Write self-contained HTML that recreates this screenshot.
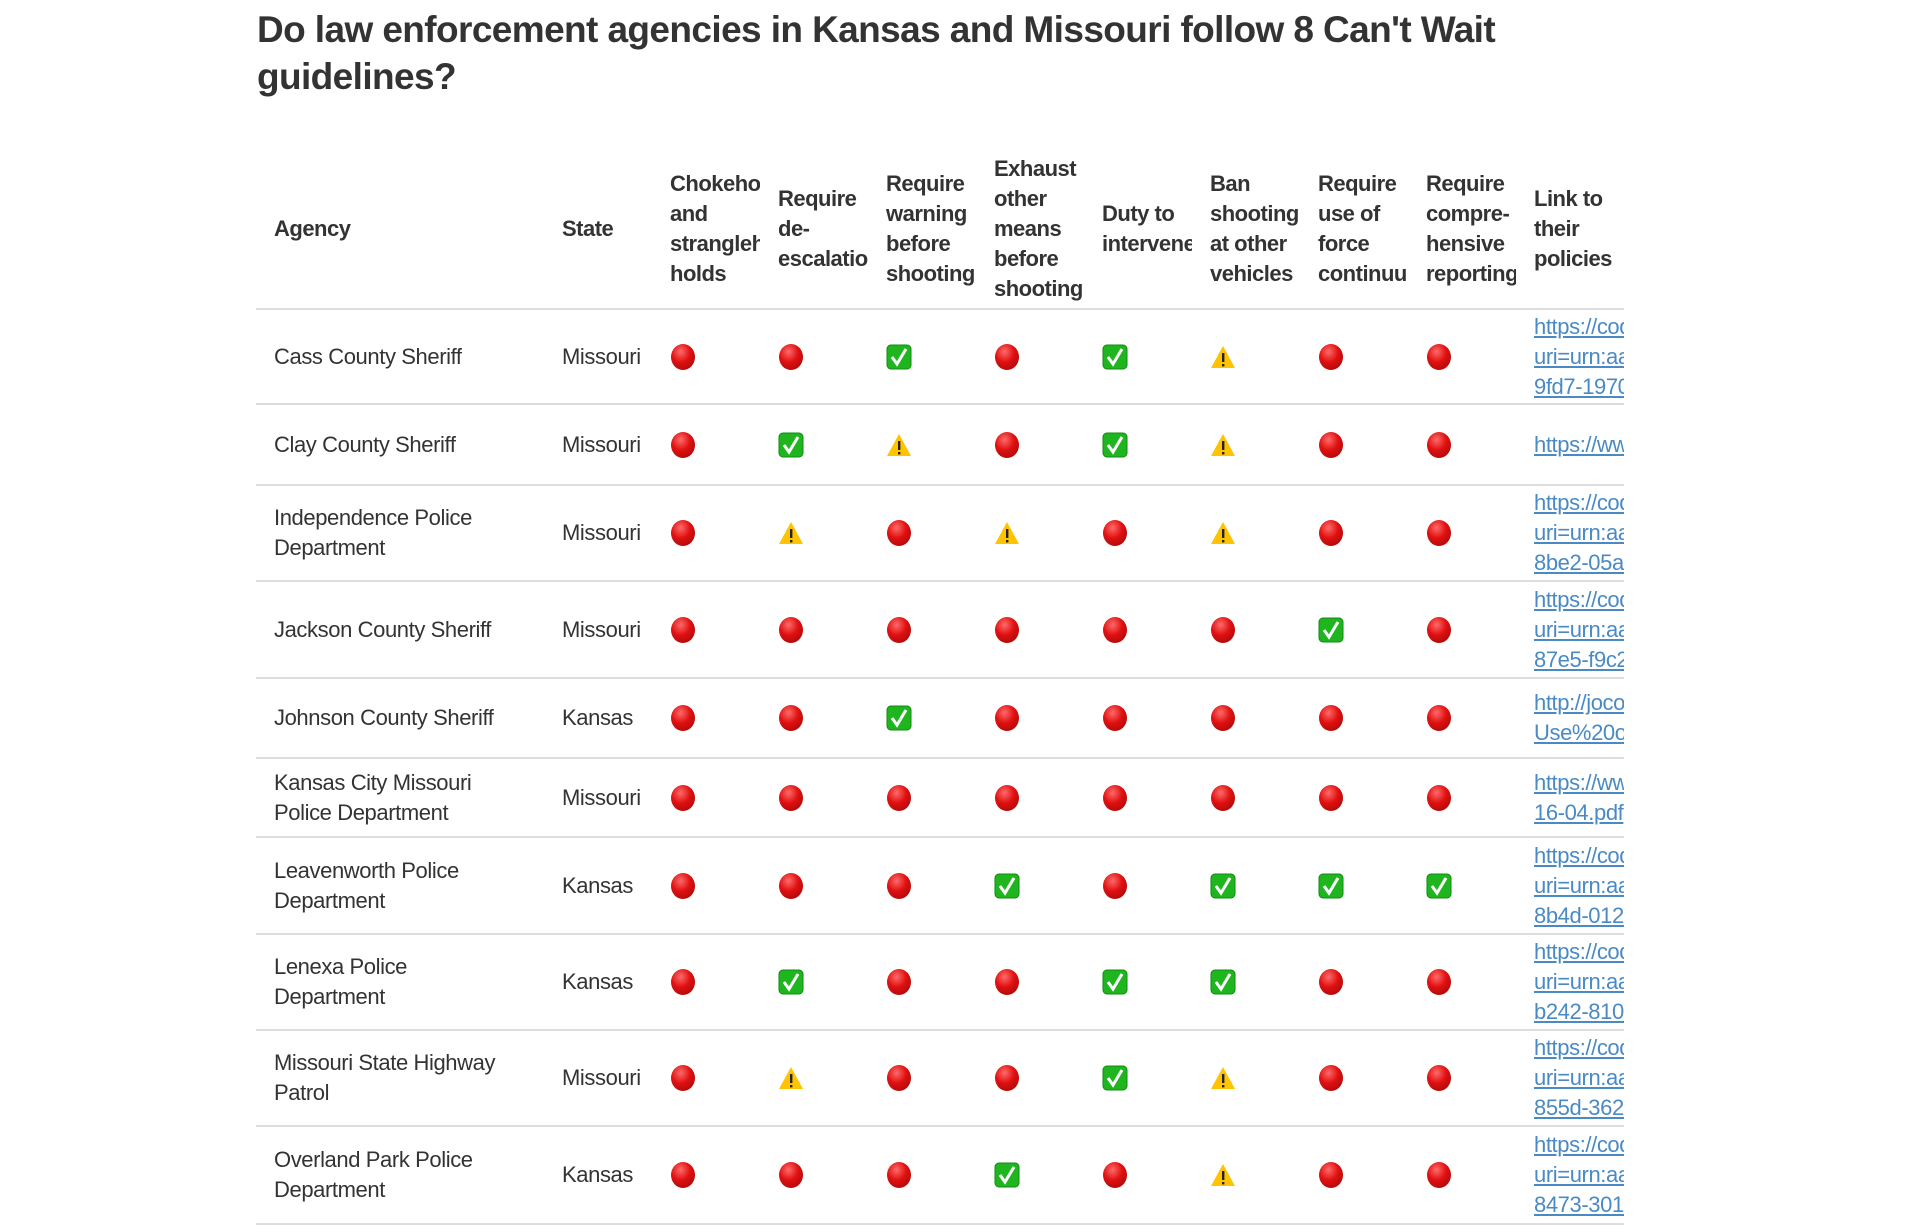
<!DOCTYPE html>
<html><head><meta charset="utf-8">
<style>
html,body{margin:0;padding:0;background:#fff;width:1922px;height:1220px;overflow:hidden;}
body{font-family:"Liberation Sans",sans-serif;color:#333;}
h1{position:absolute;left:257px;top:6px;margin:0;width:1400px;font-size:37px;line-height:47px;font-weight:bold;color:#333;letter-spacing:-0.6px;}
table{position:absolute;left:256px;top:150px;border-collapse:collapse;table-layout:fixed;width:1364px;}
th,td{padding:0 0 0 18px;overflow:hidden;text-align:left;vertical-align:middle;}
th{font-size:22px;line-height:30px;font-weight:bold;height:158px;border-bottom:2px solid #ddd;white-space:nowrap;letter-spacing:-0.5px;}
td{font-size:22px;line-height:30px;border-bottom:2px solid #ddd;letter-spacing:-0.4px;}
td.lk div{white-space:nowrap;overflow:hidden;}
td.lk a{color:#4a8ac4;text-decoration:underline;}
svg{display:block;}
</style></head><body>
<h1>Do law enforcement agencies in Kansas and Missouri follow 8 Can't Wait guidelines?</h1>
<table>
<colgroup><col style="width:288px"><col style="width:108px"><col style="width:108px"><col style="width:108px"><col style="width:108px"><col style="width:108px"><col style="width:108px"><col style="width:108px"><col style="width:108px"><col style="width:108px"><col style="width:108px"></colgroup>
<thead><tr>
<th>Agency</th>
<th>State</th>
<th>Chokeholds<br>and<br>strangleholds<br>holds</th>
<th>Require<br>de-<br>escalation</th>
<th>Require<br>warning<br>before<br>shooting</th>
<th>Exhaust<br>other<br>means<br>before<br>shooting</th>
<th>Duty to<br>intervene</th>
<th>Ban<br>shooting<br>at other<br>vehicles</th>
<th>Require<br>use of<br>force<br>continuum</th>
<th>Require<br>compre-<br>hensive<br>reporting</th>
<th>Link to<br>their<br>policies</th>
</tr></thead>
<tbody id="tb"></tbody>
</table>
<script>
const agencies=["Cass County Sheriff","Clay County Sheriff","Independence Police<br>Department","Jackson County Sheriff","Johnson County Sheriff","Kansas City Missouri<br>Police Department","Leavenworth Police<br>Department","Lenexa Police<br>Department","Missouri State Highway<br>Patrol","Overland Park Police<br>Department"];
const states=["Missouri","Missouri","Missouri","Missouri","Kansas","Missouri","Kansas","Kansas","Missouri","Kansas"];
const statuses=["RRGRGWRR","RGWRGWRR","RWRWRWRR","RRRRRRGR","RRGRRRRR","RRRRRRRR","RRRGRGGG","RGRRGGRR","RWRRGWRR","RRRGRWRR"];
const links=[["https://codelibrary","uri=urn:aaid","9fd7-1970"],["https://www.claycounty"],["https://codelibrary","uri=urn:aaid","8be2-05a1"],["https://codelibrary","uri=urn:aaid","87e5-f9c2"],["http://jocosheriff","Use%20of"],["https://www.kcpd","16-04.pdf"],["https://codelibrary","uri=urn:aaid","8b4d-0123"],["https://codelibrary","uri=urn:aaid","b242-8104"],["https://codelibrary","uri=urn:aaid","855d-3621"],["https://codelibrary","uri=urn:aaid","8473-3012"]];
const rowH=[95,81,96,97,80,79,97,96,96,98];
const icons={
R:'<svg width="26" height="28" viewBox="0 0 26 28"><defs><radialGradient id="g" cx="0.4" cy="0.3" r="0.8"><stop offset="0" stop-color="#ff6b6b"/><stop offset="0.5" stop-color="#e01010"/><stop offset="1" stop-color="#a80a0a"/></radialGradient></defs><ellipse cx="13" cy="14" rx="12" ry="13" fill="url(#g)"/></svg>',
G:'<svg width="26" height="26" viewBox="0 0 26 26"><rect x="1" y="1" width="24" height="24" rx="4" fill="#1fb51f" stroke="#138a13"/><path d="M6 13 L11 20 L20 5" stroke="#fff" stroke-width="3" fill="none"/></svg>',
W:'<svg width="26" height="26" viewBox="0 0 26 26"><path d="M13 2 L25 24 L1 24 Z" fill="#ffc300"/><rect x="12" y="9" width="2.4" height="9" fill="#222"/><rect x="12" y="20" width="2.4" height="2.4" fill="#222"/></svg>'};
const names={R:'fail-icon',G:'pass-icon',W:'partial-icon'};
const tb=document.getElementById('tb');
agencies.forEach((a,i)=>{
 const tr=document.createElement('tr');
 
 
 tr.style.height=rowH[i]+'px';
 let h='<td>'+a+'</td><td>'+states[i]+'</td>';
 for(const c of statuses[i]){h+='<td>'+icons[c]+'</td>';}
 h+='<td class="lk">'+links[i].map(l=>'<div><a>'+l+'</a></div>').join('')+'</td>';
 tr.innerHTML=h;
 tb.appendChild(tr);
});
</script>
</body></html>
